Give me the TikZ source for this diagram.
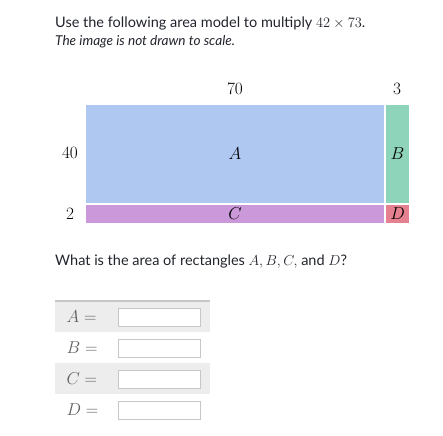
\documentclass[tikz,border=0pt]{standalone}
\usepackage[no-math]{fontspec}
\setmainfont{Lato}
\usepackage{tikz}
\usetikzlibrary{positioning}
\definecolor{ink}{HTML}{21242C}
\definecolor{cellA}{HTML}{AEC8F2}
\definecolor{cellB}{HTML}{8ED4BA}
\definecolor{cellC}{HTML}{CB98D9}
\definecolor{cellD}{HTML}{E4808F}
\definecolor{rowgray}{HTML}{EDEDED}

\begin{document}
\begin{tikzpicture}[x=1pt,y=-1pt,
  cell/.style={fill=#1,anchor=north west,inner sep=0pt,outer sep=0pt,font=\fontsize{16}{18}\selectfont},
  dim/.style={font=\fontsize{16}{18}\selectfont},
  row/.style={fill=#1,anchor=north west,minimum width=155pt,minimum height=31pt,inner sep=0pt},
  entry/.style={draw=black!22,fill=white,anchor=north west,minimum width=82pt,minimum height=18pt,inner sep=0pt},
  lhs/.style={anchor=west,text=black!62,font=\fontsize{16}{18}\selectfont}]
\useasboundingbox (0,0) rectangle (443,435);
% header
\node[anchor=base west,text=ink,inner sep=0pt,font=\fontsize{14.5}{17}\selectfont] (head) at (55,28) {Use the following area model to multiply $42\times73$.};
\node[anchor=base west,text=ink,inner sep=0pt,font=\fontsize{13.6}{16}\selectfont\itshape] (note) at (55,46) {The image is not drawn to scale.};
% area model
\node[cell=cellA,minimum width=298pt,minimum height=98pt] (A) at (86,105) {$A$};
\node[cell=cellB,minimum width=23pt,minimum height=98pt] (B) at (386,105) {$B$};
\node[cell=cellC,minimum width=298pt,minimum height=18pt] (C) at (86,205) {$C$};
\node[cell=cellD,minimum width=23pt,minimum height=18pt] (D) at (386,205) {$D$};
\node[dim] (w70) at (235,89) {$70$};
\node[dim] (w3) at (397,89) {$3$};
\node[dim] (h40) at (70,153) {$40$};
\node[dim] (h2) at (70,214) {$2$};
% question
\node[anchor=base west,text=ink,inner sep=0pt,font=\fontsize{14.5}{17}\selectfont] (ask) at (55,265) {What is the area of rectangles $A,B,C,$ and $D$?};
% answer table
\node[row=rowgray] (rowA) at (55,301) {};
\node[row=white] (rowB) at (55,332) {};
\node[row=rowgray] (rowC) at (55,363) {};
\node[row=white] (rowD) at (55,394) {};
\draw[black!22,line width=2pt] (rowA.north west) -- (rowA.north east);
\foreach \r/\y in {A/308,B/339,C/370,D/401}{
  \node[entry] (box\r) at (118,\y) {};
  \node[lhs] (lbl\r) at ([xshift=8pt]row\r.west) {$\r =$};
}
\end{tikzpicture}
\end{document}
